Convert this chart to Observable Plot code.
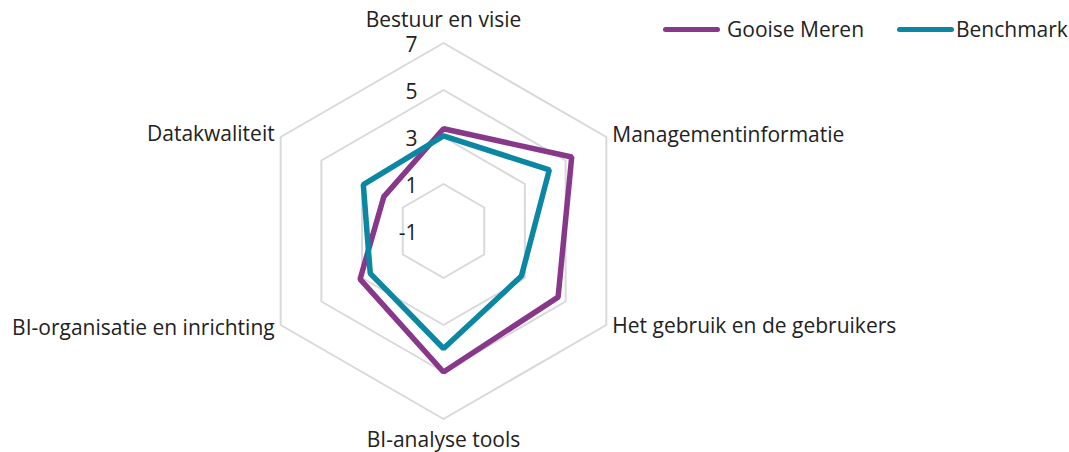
<!DOCTYPE html>
<html>
<head>
<meta charset="utf-8">
<script src="https://cdn.jsdelivr.net/npm/d3@7"></script>
<script src="https://cdn.jsdelivr.net/npm/@observablehq/plot@0.6"></script>
<style>
  html, body { margin: 0; padding: 0; background: #fff; }
  #wrap { position: relative; width: 1069px; height: 452px; font-family: "Open Sans", sans-serif; }
  .item { position: absolute; top: 14px; display: flex; align-items: center; font-size: 21px; line-height: 30px; color: #222; white-space: nowrap; }
  .sw { width: 57px; height: 5px; border-radius: 3px; }
</style>
</head>
<body>
<div id="wrap"></div>
<script>
const categories = ["Bestuur en visie", "Managementinformatie", "Het gebruik en de gebruikers", "BI-analyse tools", "BI-organisatie en inrichting", "Datakwaliteit"];
const seriesNames = ["Gooise Meren", "Benchmark"];
const gooiseMeren = [3.35, 5.3, 4.63, 5.0, 3.1, 1.93];
const benchmark = [3.05, 4.2, 2.83, 4.0, 2.6, 2.94];
const colors = ["#88388B", "#0C87A3"];
const tickValues = [-1, 1, 3, 5, 7];
const rMin = -1, rMax = 7;

const W = 1069, H = 452;
const cx = 443, cy = 230.5, Rpx = 188;
const unit = Rpx / (rMax - rMin);
const n = categories.length;
const ang = i => (i / n) * 2 * Math.PI;
const pos = (i, v) => { const r = v - rMin; return [r * Math.sin(ang(i)), r * Math.cos(ang(i))]; };

const seriesData = [];
[gooiseMeren, benchmark].forEach((vals, s) => {
  vals.forEach((v, i) => { const [x, y] = pos(i, v); seriesData.push({series: seriesNames[s], x, y}); });
});
const gridData = [];
tickValues.filter(t => t > rMin).forEach(t => {
  categories.forEach((c, i) => { const [x, y] = pos(i, t); gridData.push({ring: t, x, y}); });
});
const tickLabels = tickValues.map(t => ({t, x: 0, y: t - rMin}));
const labelOff = [
  {dx: 0, dy: -23, anchor: "middle"},
  {dx: 6, dy: -2, anchor: "start"},
  {dx: 6, dy: 1.5, anchor: "start"},
  {dx: 0, dy: 21, anchor: "middle"},
  {dx: -6, dy: 3, anchor: "end"},
  {dx: -6, dy: -2.5, anchor: "end"}
];
const catLabels = categories.map((c, i) => { const [x, y] = pos(i, rMax); return {c, x, y, ...labelOff[i]}; });

const textMarks = catLabels.map(d => Plot.text([d], {x: "x", y: "y", text: "c", dx: d.dx, dy: d.dy, textAnchor: d.anchor, fontSize: 21, fill: "#222"}));

const plot = Plot.plot({
  width: W, height: H,
  margin: 0,
  x: {domain: [-cx / unit, (W - cx) / unit], axis: null},
  y: {domain: [-(H - cy) / unit, cy / unit], axis: null},
  color: {domain: seriesNames, range: colors},
  style: {fontFamily: "'Open Sans', sans-serif", background: "transparent"},
  marks: [
    Plot.line(gridData, {x: "x", y: "y", z: "ring", curve: "linear-closed", stroke: "#d9d9d9", strokeWidth: 2}),
    Plot.line(seriesData, {x: "x", y: "y", z: "series", stroke: "series", curve: "linear-closed", strokeWidth: 5.5, strokeLinejoin: "miter"}),
    Plot.text(tickLabels, {x: "x", y: "y", text: d => String(d.t), dx: -26, dy: 2.5, textAnchor: "end", fontSize: 21, fill: "#222"}),
    ...textMarks
  ]
});
const wrap = document.getElementById("wrap");
wrap.appendChild(plot);

const legendLeft = [663, 897];
const swGap = [7, 2];
seriesNames.forEach((s, i) => {
  const item = document.createElement("div");
  item.className = "item";
  item.style.left = legendLeft[i] + "px";
  const sw = document.createElement("div");
  sw.className = "sw"; sw.style.background = colors[i]; sw.style.marginRight = swGap[i] + "px";
  const t = document.createElement("span"); t.textContent = s;
  item.appendChild(sw); item.appendChild(t);
  wrap.appendChild(item);
});
</script>
</body>
</html>
